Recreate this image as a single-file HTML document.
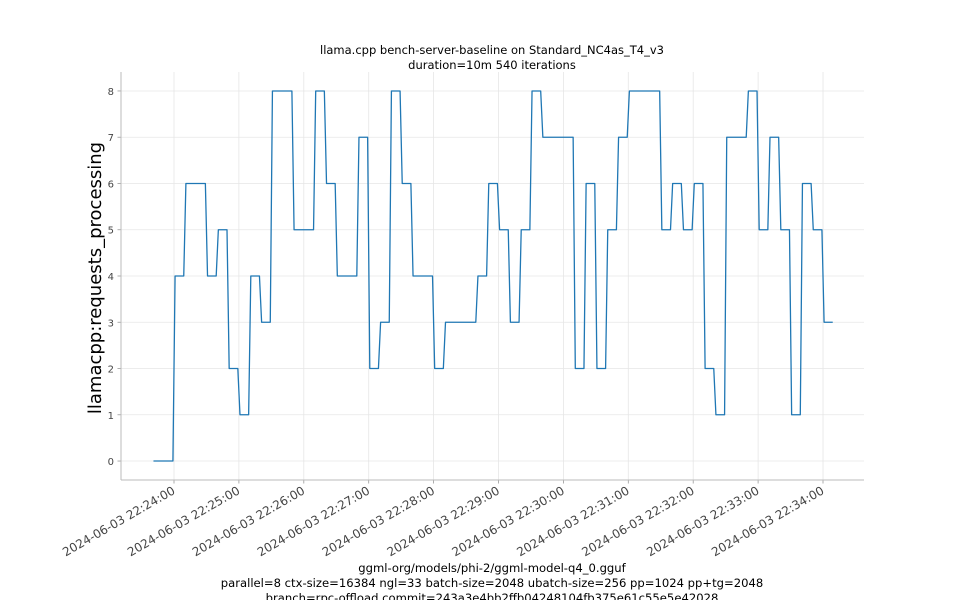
<!DOCTYPE html>
<html><head><meta charset="utf-8"><style>
html,body{margin:0;padding:0;background:#fff;}
svg{display:block;font-family:"DejaVu Sans","Liberation Sans",sans-serif;}
</style></head><body>
<svg id="chart" width="960" height="600" viewBox="0 0 960 600" xmlns="http://www.w3.org/2000/svg">
<rect width="960" height="600" fill="#fff"/>
<text x="492" y="54" font-size="11.5" text-anchor="middle" fill="#000">llama.cpp bench-server-baseline on Standard_NC4as_T4_v3</text>
<text x="492" y="69" font-size="11.5" text-anchor="middle" fill="#000">duration=10m 540 iterations</text>
<g id="grid"></g>
<g id="axes"></g>
<g id="series"></g>
<text transform="translate(101,278) rotate(-90)" font-size="18" text-anchor="middle" fill="#000">llamacpp:requests_processing</text>
<text x="492" y="572" font-size="11.6" text-anchor="middle" fill="#000">ggml-org/models/phi-2/ggml-model-q4_0.gguf</text>
<text x="492" y="587" font-size="11.6" text-anchor="middle" fill="#000">parallel=8 ctx-size=16384 ngl=33 batch-size=2048 ubatch-size=256 pp=1024 pp+tg=2048</text>
<text x="492" y="602" font-size="11.6" text-anchor="middle" fill="#000">branch=rpc-offload commit=243a3e4bb2ffb04248104fb375e61c55e5e42028</text>
</svg>
<script>
// data: one value per 10-second bucket, first bucket starts at -20s relative to 22:24:00
const bucketStartSec = -20;
const bucketSec = 10;
const values = [0,0,4,6,6,4,5,2,1,4,3,8,8,5,5,8,6,4,4,7,2,3,8,6,4,4,2,3,3,3,4,6,5,3,5,8,7,7,7,2,6,2,5,7,8,8,8,5,6,5,6,2,1,7,7,8,5,7,5,1,6,5,3];
const yTicks = [0,1,2,3,4,5,6,7,8];
const xTickSec = [0,60,120,180,240,300,360,420,480,540,600];
const xTickLabels = ["2024-06-03 22:24:00","2024-06-03 22:25:00","2024-06-03 22:26:00","2024-06-03 22:27:00","2024-06-03 22:28:00","2024-06-03 22:29:00","2024-06-03 22:30:00","2024-06-03 22:31:00","2024-06-03 22:32:00","2024-06-03 22:33:00","2024-06-03 22:34:00"];

const NS = "http://www.w3.org/2000/svg";
const L = 121, R = 864, T = 72, B = 480;
const xMin = -49, xMax = 637.9, yMin = -0.41, yMax = 8.41;
function xs(s){ return L + (s - xMin) / (xMax - xMin) * (R - L); }
function ys(v){ return B - (v - yMin) / (yMax - yMin) * (B - T); }
function mk(tag, attrs, parent){ const e = document.createElementNS(NS, tag); for (const k in attrs) e.setAttribute(k, attrs[k]); parent.appendChild(e); return e; }

const grid = document.getElementById('grid');
const axes = document.getElementById('axes');
const series = document.getElementById('series');

yTicks.forEach(v => {
  const y = ys(v);
  const g = mk('line', {x1:L, x2:R, y1:y, y2:y, stroke:'#e6e6e6', 'stroke-width':0.8}, grid);
  
  
  const t = mk('line', {x1:L-3.5, x2:L, y1:y, y2:y, stroke:'#999', 'stroke-width':0.8}, axes);
  
  
  const lb = mk('text', {x:L-7, y:y+4, 'font-size':10, 'text-anchor':'end', fill:'#444'}, axes);
  lb.textContent = String(v);
  
  
});

xTickSec.forEach((s, i) => {
  const x = xs(s);
  const g = mk('line', {x1:x, x2:x, y1:T, y2:B, stroke:'#e6e6e6', 'stroke-width':0.8}, grid);
  
  
  const t = mk('line', {x1:x, x2:x, y1:B, y2:B+3.5, stroke:'#999', 'stroke-width':0.8}, axes);
  
  
  const lb = mk('text', {transform:'translate(' + (x+2) + ',' + (B+13) + ') rotate(-30)', 'font-size':12, 'text-anchor':'end', fill:'#444'}, axes);
  lb.textContent = xTickLabels[i];
  
  
});

const sl = mk('line', {x1:L, x2:L, y1:T, y2:B, stroke:'#bbb', 'stroke-width':1}, axes);


const sb = mk('line', {x1:L, x2:R, y1:B, y2:B, stroke:'#bbb', 'stroke-width':1}, axes);



const pts = [];
values.forEach((v, i) => {
  const s0 = bucketStartSec + i * bucketSec;
  pts.push(xs(s0 + 1).toFixed(2) + ',' + ys(v).toFixed(2));
  pts.push(xs(s0 + 9).toFixed(2) + ',' + ys(v).toFixed(2));
});
const line = mk('polyline', {points: pts.join(' '), fill:'none', stroke:'#1f77b4', 'stroke-width':1.3, 'stroke-linejoin':'round'}, series);


</script>
</body></html>
